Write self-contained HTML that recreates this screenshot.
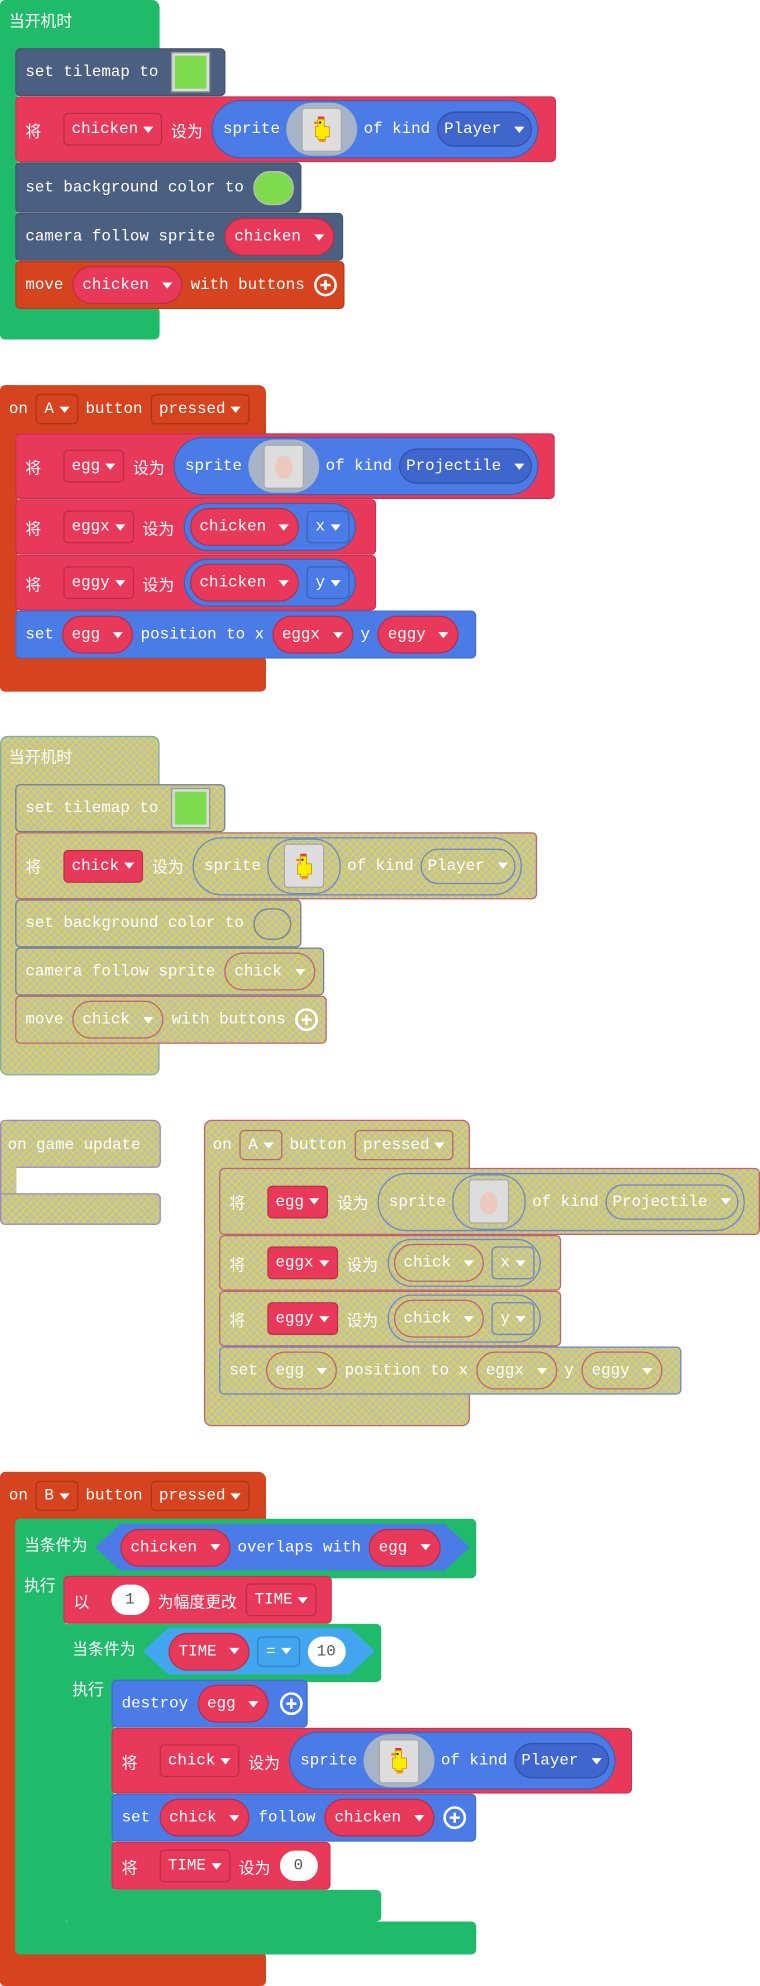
<!DOCTYPE html>
<html><head><meta charset="utf-8"><style>
body{margin:0;background:#fff;width:760px;height:1986px;overflow:hidden;position:relative}
#s{position:absolute;left:0;top:0;width:600px;height:1568px;transform:scale(1.266667);transform-origin:0 0;font-family:"Liberation Mono","Noto Sans CJK SC",monospace;font-size:12.5px;color:#fff}
.b{position:absolute;border-radius:4px;box-sizing:border-box}
.r{position:absolute;box-sizing:border-box;display:flex;align-items:center;padding-left:7px;gap:7px;border-radius:4px;white-space:nowrap;border:1px solid rgba(0,0,0,.12)}
.t{position:absolute;white-space:nowrap;line-height:1}
.g{background:#1fbb6b}.sl{background:#4b5f80}.rd{background:#e9395a}.bl{background:#4b7be6}.or{background:#d5431f}.lb{background:#42a5f0}.db{background:#3f66cc}
.dd{display:inline-flex;align-items:center;height:26px;padding:0 6px;border:1px solid rgba(0,0,0,.2);border-radius:4px;box-sizing:border-box;flex:none}
.pl{display:inline-flex;align-items:center;height:30px;padding:0 7px;border:1px solid rgba(0,0,0,.2);border-radius:16px;box-sizing:border-box;flex:none;gap:6px}
.ar::after{content:"";display:inline-block;border-left:4px solid transparent;border-right:4px solid transparent;border-top:5px solid #fff;margin-left:4px}
.sp{height:46px;padding:0 4px 0 8px;border-radius:23px;gap:5px}
.img{display:inline-flex;align-items:center;justify-content:center;width:56px;height:42px;border-radius:21px;background:#a7b3c6;flex:none}
.sq{width:30px;height:33px;background:#ddd;border:1px solid #aaa;border-radius:3px;display:flex;align-items:center;justify-content:center}
.tile{width:25px;height:26px;background:#7fdc4f;border:2px solid #ddd;outline:1px solid #999;flex:none}
.num{display:inline-flex;align-items:center;justify-content:center;height:24px;min-width:30px;padding:0 6px;box-sizing:border-box;background:#fff;color:#555;border-radius:12px}
.plus{width:14px;height:14px;border:2px solid #fff;border-radius:50%;position:relative;flex:none}
.plus::before{content:"";position:absolute;left:3px;top:6px;width:8px;height:2px;background:#fff}
.plus::after{content:"";position:absolute;left:6px;top:3px;width:2px;height:8px;background:#fff}
.hex{position:absolute;display:flex;align-items:center;gap:6px;padding:0 20px;box-sizing:border-box;white-space:nowrap;clip-path:polygon(0 50%,20px 0,calc(100% - 20px) 0,100% 50%,calc(100% - 20px) 100%,20px 100%)}
.k{padding:0 5px;height:28px}
.h{background-color:#bdbdb3;background-image:repeating-linear-gradient(45deg,transparent 0 3px,rgba(225,220,50,.75) 3px 4px),repeating-linear-gradient(-45deg,transparent 0 3px,rgba(225,220,50,.75) 3px 4px)}
.hg{border:1px solid #7fae9a}.hs{border:1px solid #6f7f98}.hr{border:1px solid #c4606e}.hb{border:1px solid #6b86c9}.hp{border:1px solid #9a88c0}
</style></head><body><div id="s">
<svg width="0" height="0" style="position:absolute"><defs><g id="chick"><rect x="7" y="2" width="5" height="2" fill="#e33"/><rect x="4" y="6" width="3" height="2" fill="#e80"/><path d="M7 4h5v6h4v8h-3v2h-6v-2h-2v-8h2z" fill="#ffec00" stroke="#c80" stroke-width=".6"/><rect x="8" y="6" width="1.5" height="1.5" fill="#000"/><rect x="8" y="20" width="5" height="2" fill="#f80"/></g></defs></svg>

<!-- Block 1 -->
<div class="b g" style="left:0;top:0;width:126px;height:40px;border-radius:6px 6px 0 0"></div>
<div class="b g" style="left:0;top:0;width:14px;height:268px"></div>
<div class="b g" style="left:0;top:242px;width:126px;height:26px"></div>
<div class="t" style="left:7px;top:12px">当开机时</div>
<div class="r sl" style="left:12px;top:38px;width:166px;height:38px">set tilemap to<span class="tile" style="margin-left:4px"></span></div>
<div class="r rd" style="left:12px;top:76px;width:427px;height:52px;gap:7px">将<span class="dd rd ar" style="margin-left:10px">chicken</span>设为<span class="pl bl sp">sprite<span class="img"><span class="sq"><svg width="20" height="24"><use href="#chick"/></svg></span></span>of kind<span class="pl db ar k">Player</span></span></div>
<div class="r sl" style="left:12px;top:128px;width:226px;height:40px">set background color to<span style="width:30px;height:25px;border-radius:13px;background:#7fdc4f;border:1px solid #bbb"></span></div>
<div class="r sl" style="left:12px;top:168px;width:259px;height:38px">camera follow sprite<span class="pl rd ar">chicken</span></div>
<div class="r or" style="left:12px;top:206px;width:260px;height:38px">move<span class="pl rd ar">chicken</span>with buttons<span class="plus"></span></div>

<!-- Block 2 -->
<div class="b or" style="left:0;top:304px;width:210px;height:40px;border-radius:6px 6px 0 0"></div>
<div class="b or" style="left:0;top:304px;width:14px;height:242px"></div>
<div class="b or" style="left:0;top:518px;width:210px;height:28px"></div>
<div class="r" style="left:0;top:306px;height:34px;border:none;gap:6px">on<span class="dd or ar" style="height:24px">A</span>button<span class="dd or ar" style="height:24px">pressed</span></div>
<div class="r rd" style="left:12px;top:342px;width:426px;height:52px;gap:7px">将<span class="dd rd ar" style="margin-left:10px">egg</span>设为<span class="pl bl sp">sprite<span class="img"><span class="sq"><svg width="20" height="24"><ellipse cx="10" cy="13" rx="7" ry="9" fill="#ecc8bd"/></svg></span></span>of kind<span class="pl db ar k">Projectile</span></span></div>
<div class="r rd" style="left:12px;top:394px;width:285px;height:44px;gap:7px">将<span class="dd rd ar" style="margin-left:10px">eggx</span>设为<span class="pl bl" style="height:38px;padding:0 4px;border-radius:19px"><span class="pl rd ar">chicken</span><span class="dd bl ar">x</span></span></div>
<div class="r rd" style="left:12px;top:438px;width:285px;height:44px;gap:7px">将<span class="dd rd ar" style="margin-left:10px">eggy</span>设为<span class="pl bl" style="height:38px;padding:0 4px;border-radius:19px"><span class="pl rd ar">chicken</span><span class="dd bl ar">y</span></span></div>
<div class="r bl" style="left:12px;top:482px;width:364px;height:38px;gap:6px">set<span class="pl rd ar">egg</span>position to x<span class="pl rd ar">eggx</span>y<span class="pl rd ar">eggy</span></div>

<!-- Block 3 disabled -->
<div class="b h hg" style="left:0;top:581px;width:126px;height:268px;border-radius:6px"></div>
<div class="t" style="left:7px;top:593px">当开机时</div>
<div class="r h hs" style="left:12px;top:619px;width:166px;height:38px">set tilemap to<span class="tile" style="margin-left:4px"></span></div>
<div class="r h hr" style="left:12px;top:657px;width:412px;height:53px;gap:7px">将<span class="dd rd ar" style="margin-left:10px">chick</span>设为<span class="pl h hb sp">sprite<span class="img h hb"><span class="sq"><svg width="20" height="24"><use href="#chick"/></svg></span></span>of kind<span class="pl h hb ar k">Player</span></span></div>
<div class="r h hs" style="left:12px;top:710px;width:226px;height:38px">set background color to<span class="h hs" style="width:30px;height:25px;border-radius:13px;box-sizing:border-box"></span></div>
<div class="r h hs" style="left:12px;top:748px;width:244px;height:38px">camera follow sprite<span class="pl h hr ar">chick</span></div>
<div class="r h hr" style="left:12px;top:786px;width:246px;height:38px">move<span class="pl h hr ar">chick</span>with buttons<span class="plus"></span></div>

<!-- Block 4 -->
<div class="b h hp" style="left:0;top:884px;width:127px;height:38px;border-radius:6px 6px 4px 0"></div>
<div class="b h hp" style="left:0;top:884px;width:13px;height:83px;border-right:none"></div>
<div class="b h hp" style="left:0;top:942px;width:127px;height:25px;border-radius:0 4px 4px 4px"></div>
<div class="t" style="left:6px;top:898px">on game update</div>

<!-- Block 5 -->
<div class="b h hr" style="left:161px;top:884px;width:210px;height:242px;border-radius:6px"></div>
<div class="r" style="left:161px;top:887px;height:34px;border:none;gap:6px">on<span class="dd h hr ar" style="height:24px">A</span>button<span class="dd h hr ar" style="height:24px">pressed</span></div>
<div class="r h hr" style="left:173px;top:922px;width:427px;height:53px;gap:7px">将<span class="dd rd ar" style="margin-left:10px">egg</span>设为<span class="pl h hb sp">sprite<span class="img h hb"><span class="sq"><svg width="20" height="24"><ellipse cx="10" cy="13" rx="7" ry="9" fill="#ecc8bd"/></svg></span></span>of kind<span class="pl h hb ar k">Projectile</span></span></div>
<div class="r h hr" style="left:173px;top:975px;width:270px;height:44px;gap:7px">将<span class="dd rd ar" style="margin-left:10px">eggx</span>设为<span class="pl h hb" style="height:38px;padding:0 4px;border-radius:19px"><span class="pl h hr ar">chick</span><span class="dd h hb ar">x</span></span></div>
<div class="r h hr" style="left:173px;top:1019px;width:270px;height:44px;gap:7px">将<span class="dd rd ar" style="margin-left:10px">eggy</span>设为<span class="pl h hb" style="height:38px;padding:0 4px;border-radius:19px"><span class="pl h hr ar">chick</span><span class="dd h hb ar">y</span></span></div>
<div class="r h hb" style="left:173px;top:1063px;width:365px;height:38px;gap:6px">set<span class="pl h hr ar">egg</span>position to x<span class="pl h hr ar">eggx</span>y<span class="pl h hr ar">eggy</span></div>

<!-- Block 6 -->
<div class="b or" style="left:0;top:1162px;width:210px;height:40px;border-radius:6px 6px 0 0"></div>
<div class="b or" style="left:0;top:1162px;width:14px;height:406px"></div>
<div class="b or" style="left:0;top:1541px;width:210px;height:27px"></div>
<div class="r" style="left:0;top:1164px;height:34px;border:none;gap:6px">on<span class="dd or ar" style="height:24px">B</span>button<span class="dd or ar" style="height:24px">pressed</span></div>

<div class="b g" style="left:12px;top:1199px;width:364px;height:47px"></div>
<div class="b g" style="left:12px;top:1199px;width:40px;height:344px"></div>
<div class="b g" style="left:12px;top:1517px;width:364px;height:26px"></div>
<div class="t" style="left:19px;top:1215px">当条件为</div>
<div class="t" style="left:19px;top:1247px">执行</div>
<div class="hex bl" style="left:75px;top:1203px;width:296px;height:37px"><span class="pl rd ar">chicken</span>overlaps with<span class="pl rd ar">egg</span></div>

<div class="r rd" style="left:50px;top:1244px;width:212px;height:38px;gap:7px">以<span class="num" style="margin-left:10px">1</span>为幅度更改<span class="dd rd ar">TIME</span></div>

<div class="b g" style="left:50px;top:1282px;width:251px;height:46px"></div>
<div class="b g" style="left:50px;top:1282px;width:40px;height:235px"></div>
<div class="b g" style="left:50px;top:1492px;width:251px;height:25px"></div>
<div class="t" style="left:57px;top:1297px">当条件为</div>
<div class="t" style="left:57px;top:1329px">执行</div>
<div class="hex lb" style="left:113px;top:1285px;width:183px;height:37px;gap:6px"><span class="pl rd ar">TIME</span><span class="dd lb ar" style="height:24px">=</span><span class="num">10</span></div>

<div class="r bl" style="left:88px;top:1326px;width:155px;height:38px">destroy<span class="pl rd ar">egg</span><span class="plus" style="margin-left:2px"></span></div>
<div class="r rd" style="left:88px;top:1364px;width:411px;height:52px;gap:7px">将<span class="dd rd ar" style="margin-left:10px">chick</span>设为<span class="pl bl sp">sprite<span class="img"><span class="sq"><svg width="20" height="24"><use href="#chick"/></svg></span></span>of kind<span class="pl db ar k">Player</span></span></div>
<div class="r bl" style="left:88px;top:1416px;width:288px;height:38px">set<span class="pl rd ar">chick</span>follow<span class="pl rd ar">chicken</span><span class="plus"></span></div>
<div class="r rd" style="left:88px;top:1454px;width:173px;height:38px;gap:7px">将<span class="dd rd ar" style="margin-left:10px">TIME</span>设为<span class="num">0</span></div>
</div></body></html>
